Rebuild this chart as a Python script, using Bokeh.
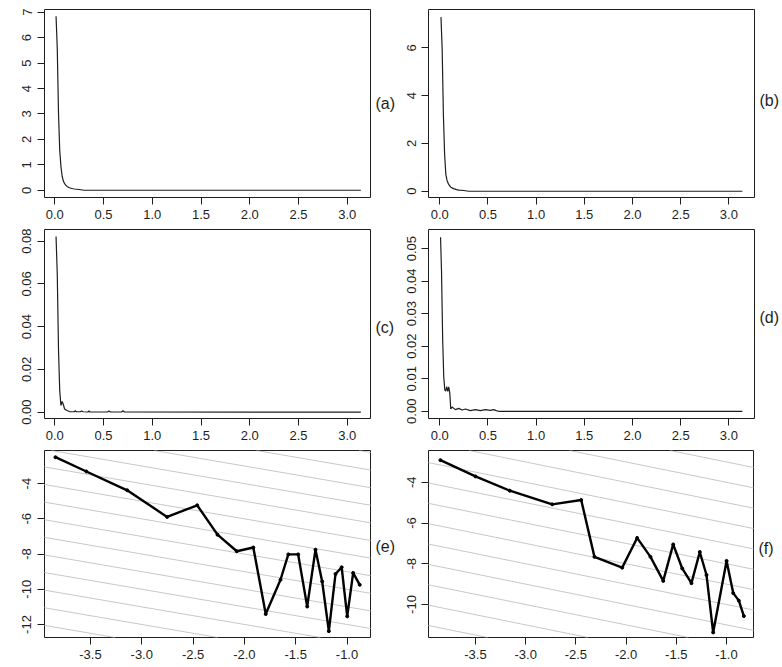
from bokeh.plotting import figure
from bokeh.layouts import column, row
from bokeh.models import Range1d, FixedTicker, PrintfTickFormatter, Slope, LinearAxis
from bokeh.embed import file_html
from bokeh.resources import INLINE

# ---------------- data ----------------
freq_ab = [0.0125, 0.025, 0.0375, 0.05, 0.0625, 0.075, 0.0875, 0.1, 0.1125, 0.125,
           0.15, 0.175, 0.2, 0.25, 0.3, 3.14]
spec_a = [6.84, 5.57, 3.05, 1.59, 0.94, 0.55, 0.36, 0.26, 0.20, 0.15,
          0.10, 0.07, 0.05, 0.03, 0.0, 0.0]
spec_b = [7.29, 5.93, 3.20, 1.56, 0.72, 0.45, 0.33, 0.24, 0.18, 0.14,
          0.10, 0.07, 0.05, 0.03, 0.0, 0.0]

freq_c = [0.0125, 0.025, 0.0375, 0.05, 0.0625, 0.075, 0.0875, 0.1, 0.125, 0.15,
          0.2, 0.21, 0.22, 0.26, 0.275, 0.29, 0.34, 0.35, 0.36, 0.54, 0.555, 0.57,
          0.685, 0.7, 0.715, 3.14]
spec_c = [0.0822, 0.0647, 0.0297, 0.0102, 0.0031, 0.0050, 0.0036, 0.0015, 0.0008, 0.0003,
          0.0002, 0.0007, 0.0002, 0.0002, 0.0006, 0.0002, 0.0001, 0.0006, 0.0001, 0.0001,
          0.0006, 0.0001, 0.0001, 0.0007, 0.0001, 0.0]

freq_d = [0.008, 0.018, 0.03, 0.041, 0.052, 0.062, 0.072, 0.083, 0.093, 0.104, 0.114,
          0.128, 0.162, 0.197, 0.231, 0.266, 0.317, 0.369, 0.421, 0.473, 0.524, 0.559,
          0.586, 0.61, 3.14]
spec_d = [0.0535, 0.0431, 0.0223, 0.0106, 0.0066, 0.0062, 0.0076, 0.0061, 0.0075, 0.0056,
          0.0007, 0.0013, 0.0005, 0.0009, 0.0004, 0.0007, 0.0002, 0.0005, 0.0002, 0.0005,
          0.0003, 0.0005, 0.0002, 0.0, 0.0]

logf_e = [-3.841, -3.54, -3.142, -2.753, -2.46, -2.262, -2.074, -1.913, -1.792, -1.648,
          -1.572, -1.476, -1.388, -1.307, -1.242, -1.177, -1.112, -1.052, -0.998, -0.94, -0.876]
logs_e = [-2.50, -3.31, -4.38, -5.89, -5.23, -6.90, -7.84, -7.63, -11.41, -9.46,
          -8.02, -8.02, -10.98, -7.75, -9.56, -12.38, -9.13, -8.75, -11.54, -9.07, -9.75]

logf_f = [-3.849, -3.5, -3.158, -2.736, -2.447, -2.315, -2.039, -1.89, -1.757, -1.63,
          -1.531, -1.441, -1.349, -1.266, -1.199, -1.133, -0.999, -0.933, -0.877, -0.827]
logs_f = [-2.91, -3.71, -4.41, -5.08, -4.87, -7.66, -8.19, -6.73, -7.66, -8.84,
          -7.05, -8.23, -8.95, -7.42, -8.55, -11.37, -7.86, -9.44, -9.81, -10.57]

ref_intercepts = list(range(-17, -1))

xticks_lin = [0.0, 0.5, 1.0, 1.5, 2.0, 2.5, 3.0]
xticks_log = [-3.5, -3.0, -2.5, -2.0, -1.5, -1.0]
yticks_a = [0, 1, 2, 3, 4, 5, 6, 7]
yticks_b = [0, 2, 4, 6]
yticks_c = [0.0, 0.02, 0.04, 0.06, 0.08]
yticks_d = [0.0, 0.01, 0.02, 0.03, 0.04, 0.05]
yticks_e = [-12, -10, -8, -6, -4]
yticks_f = [-10, -8, -6, -4]
panel_labels = ["(a)", "(b)", "(c)", "(d)", "(e)", "(f)"]

FONT = "Liberation Sans"
INK = "#1e1e1e"


def panel(w, h, bl, br, bt, bb, xr, yr, xt, yt, xfmt, yfmt, ystand):
    p = figure(width=w, height=h, output_backend="svg", toolbar_location=None,
               x_range=Range1d(*xr), y_range=Range1d(*yr),
               min_border_left=bl, min_border_right=br,
               min_border_top=bt, min_border_bottom=bb)
    p.grid.visible = False
    p.outline_line_color = INK
    p.outline_line_width = 1
    p.outline_line_alpha = 1
    p.background_fill_color = "white"
    p.border_fill_color = "white"
    for ax, ticks, fmt, st in ((p.xaxis[0], xt, xfmt, 5), (p.yaxis[0], yt, yfmt, ystand)):
        ax.ticker = FixedTicker(ticks=ticks)
        ax.formatter = PrintfTickFormatter(format=fmt)
        ax.axis_line_color = None
        ax.major_tick_in = 0
        ax.major_tick_out = 7
        ax.major_tick_line_color = INK
        ax.minor_tick_line_color = None
        ax.major_label_text_font = FONT
        ax.major_label_text_font_size = "13px"
        ax.major_label_text_color = INK
        ax.major_label_standoff = st
    p.yaxis[0].major_label_orientation = "vertical"
    return p


def add_label(p, text, y):
    # panel tag drawn as a single-tick label on a right-hand axis
    ax = LinearAxis(ticker=FixedTicker(ticks=[y]),
                    formatter=PrintfTickFormatter(format=text))
    ax.axis_line_color = None
    ax.major_tick_line_color = None
    ax.minor_tick_line_color = None
    ax.major_tick_in = 0
    ax.major_tick_out = 0
    ax.major_label_standoff = 5
    ax.major_label_orientation = "horizontal"
    ax.major_label_text_font = FONT
    ax.major_label_text_font_size = "16px"
    ax.major_label_text_color = INK
    p.add_layout(ax, "right")


# (a)
pa = panel(398, 226, 44, 28, 9, 28, (-0.106, 3.239), (-0.285, 7.106),
           xticks_lin, yticks_a, "%.1f", "%d", 6)
pa.line(freq_ab, spec_a, line_color=INK, line_width=1.2)
add_label(pa, panel_labels[0], 3.43)

# (b)
pb = panel(384, 226, 30, 27, 8, 29, (-0.117, 3.266), (-0.2625, 7.61),
           xticks_lin, yticks_b, "%.1f", "%d", 5)
pb.line(freq_ab, spec_b, line_color=INK, line_width=1.2)
add_label(pb, panel_labels[1], 3.78)

# (c)
pc = panel(398, 220, 44, 28, 3, 28, (-0.106, 3.239), (-0.00295, 0.08547),
           xticks_lin, yticks_c, "%.1f", "%.2f", 6)
pc.line(freq_c, spec_c, line_color=INK, line_width=1.2)
add_label(pc, panel_labels[2], 0.0398)

# (d)
pd = panel(384, 220, 30, 27, 2, 27, (-0.117, 3.266), (-0.00222, 0.05587),
           xticks_lin, yticks_d, "%.1f", "%.2f", 5)
pd.line(freq_d, spec_d, line_color=INK, line_width=1.2)
add_label(pd, panel_labels[3], 0.0289)

# (e)
pe = panel(398, 221, 44, 28, 4, 29, (-3.948, -0.771), (-12.74, -2.119),
           xticks_log, yticks_e, "%.1f", "%d", 6)
for c in ref_intercepts:
    pe.add_layout(Slope(gradient=-1, y_intercept=c, line_color="#c8c8c8",
                        line_width=1, level="underlay"))
pe.line(logf_e, logs_e, line_color="black", line_width=2.4, line_join="round")
pe.scatter(logf_e, logs_e, size=3, color="black")
add_label(pe, panel_labels[4], -7.58)

# (f)
pf = panel(384, 221, 30, 29, 1, 30, (-3.968, -0.731), (-11.62, -2.437),
           xticks_log, yticks_f, "%.1f", "%d", 5)
for c in ref_intercepts:
    pf.add_layout(Slope(gradient=-1, y_intercept=c, line_color="#c8c8c8",
                        line_width=1, level="underlay"))
pf.line(logf_f, logs_f, line_color="black", line_width=2.4, line_join="round")
pf.scatter(logf_f, logs_f, size=3, color="black")
add_label(pf, panel_labels[5], -7.26)

layout = column(row(pa, pb), row(pc, pd), row(pe, pf))

open("out.html", "w").write(file_html(layout, INLINE))
